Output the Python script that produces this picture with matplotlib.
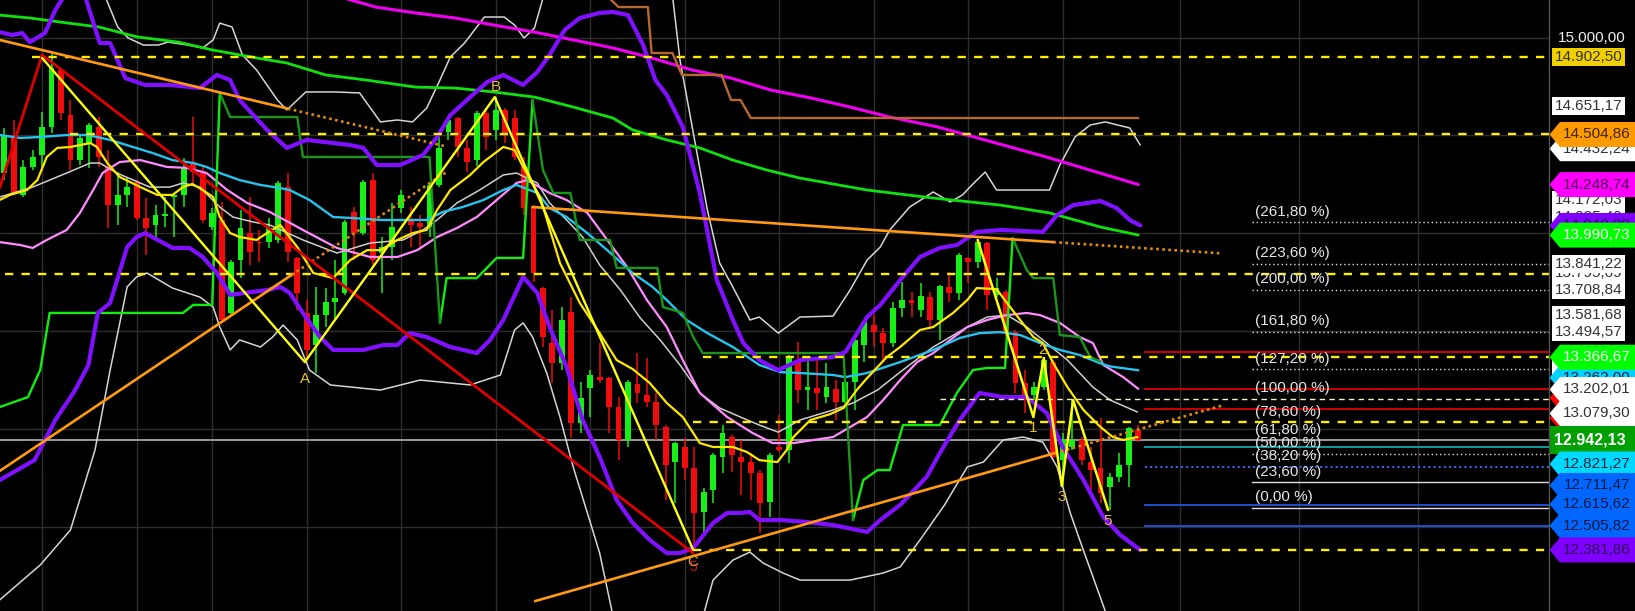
import matplotlib
matplotlib.use('Agg')
import matplotlib.pyplot as plt
import numpy as np
from matplotlib.patches import Polygon, Rectangle
from matplotlib.lines import Line2D

plt.rcParams['font.family'] = ['Liberation Sans', 'DejaVu Sans']

# ---------------- candles (index 0..120) ----------------
opens = [14309, 14494, 14197, 14340, 14401, 14545, 14836, 14606, 14376, 14463,
         14545, 14340, 14146, 14197, 14263, 14079, 14044, 14090, 14187, 14197,
         14366, 14309, 14033, 14069, 13594, 13865, 14003, 13957, 13957, 13967,
         14238, 13875, 13594, 13430, 13583, 13650, 13696, 14110, 14003, 14274,
         13900, 13931, 14131, 14069, 14054, 14033, 14248, 14519, 14591, 14437,
         14376, 14616, 14529, 14632, 14591, 14340, 14136, 13721, 13440, 13338,
         13599, 13031, 13210, 13266, 13261, 13113, 12944, 13231, 13174, 13139,
         13011, 12832, 12909, 12801, 12576, 12689, 12857, 12960, 12857, 12832,
         12776, 12627, 12909, 12893, 13353, 13200, 13210, 13164, 13205, 13139,
         13241, 13430, 13532, 13491, 13440, 13619, 13660, 13609, 13676, 13558,
         13727, 13696, 13875, 13854, 13952, 13686, 13701, 13497, 13236, 13174,
         13215, 13343, 12842, 12909, 12944, 12832, 12801, 12704, 12755, 12816,
         12995]
closes = [14504, 14207, 14340, 14391, 14545, 14846, 14616, 14376, 14488, 14555,
          14391, 14146, 14197, 14238, 14079, 14028, 14095, 14095, 14197, 14335,
          14315, 14069, 14105, 13558, 13854, 14028, 13906, 13950, 14028, 14258,
          13906, 13696, 13404, 13583, 13650, 13670, 14059, 14003, 14263, 13865,
          13931, 14033, 14197, 14044, 14033, 14248, 14437, 14580, 14442, 14366,
          14616, 14494, 14632, 14514, 14391, 14131, 13798, 13471, 13338, 13558,
          13031, 13159, 13277, 13251, 13113, 12944, 13241, 13185, 13139, 13021,
          12816, 12929, 12801, 12571, 12678, 12868, 12980, 12868, 12832, 12776,
          12622, 12868, 12893, 13369, 13200, 13215, 13185, 13215, 13139, 13241,
          13456, 13548, 13497, 13440, 13619, 13660, 13645, 13681, 13558, 13732,
          13696, 13890, 13854, 13957, 13686, 13721, 13491, 13236, 13149, 13215,
          13353, 12857, 12944, 12944, 12842, 12791, 12673, 12755, 12816, 13006,
          12944]
highs = [14540, 14580, 14376, 14427, 14621, 14915, 14846, 14683, 14498, 14565,
         14596, 14427, 14315, 14289, 14274, 14182, 14146, 14187, 14207, 14386,
         14596, 14350, 14131, 14161, 13865, 14120, 14187, 14018, 14079, 14268,
         14309, 13880, 13660, 13727, 13721, 13865, 14069, 14136, 14274, 14309,
         13982, 14156, 14223, 14136, 14095, 14258, 14494, 14596, 14596, 14478,
         14626, 14632, 14698, 14640, 14632, 14391, 14146, 13727, 13609, 13624,
         13676, 13241, 13302, 13440, 13266, 13164, 13251, 13389, 13364, 13185,
         13021, 12934, 12955, 12909, 12699, 12878, 13021, 12970, 12944, 12878,
         12791, 12878, 13072, 13379, 13445, 13353, 13353, 13338, 13251, 13251,
         13466, 13558, 13583, 13517, 13650, 13752, 13701, 13747, 13701, 13737,
         13803, 13900, 13880, 13972, 13957, 13773, 13711, 13507, 13302, 13241,
         13369, 13353, 12980, 13149, 12960, 12909, 13057, 12776, 12878, 13011,
         13021]
lows = [14274, 14200, 14187, 14325, 14325, 14514, 14580, 14325, 14350, 14335,
        14340, 14028, 14044, 14136, 14069, 13890, 13977, 14033, 13982, 14136,
        14258, 14054, 14018, 13543, 13578, 13773, 13839, 13854, 13926, 13952,
        13854, 13609, 13353, 13287, 13522, 13558, 13686, 13865, 13992, 13839,
        13696, 13865, 14105, 13931, 13931, 13982, 14238, 14478, 14391, 14315,
        14345, 14427, 14478, 14463, 14376, 14095, 13752, 13420, 13236, 13302,
        12955, 12980, 13062, 13236, 12980, 12842, 12909, 13133, 13113, 12944,
        12638, 12622, 12740, 12382, 12469, 12622, 12776, 12781, 12663, 12638,
        12469, 12551, 12883, 12827, 13133, 13098, 13098, 13133, 13047, 13124,
        13098, 13343, 13420, 13343, 13420, 13573, 13573, 13573, 13522, 13456,
        13650, 13660, 13747, 13824, 13609, 13676, 13476, 13185, 13080, 13149,
        13200, 12842, 12710, 12893, 12816, 12689, 12622, 12586, 12730, 12704,
        12934]

# ---------------- indicator lines (candle index, price) ----------------
purple_up = [(-0.5,15028),(0.8,15013),(1.9,15023),(2.7,14977),(4.3,15023),(5.4,15141),(6.4,15218),
             (8.5,15218),(10.1,14972),(11.2,14972),(12.8,14793),(14.9,14758),(17.5,14758),(20.7,14742),
             (22.5,14809),(23.9,14783),(24.9,14681),(27.8,14528),(29.9,14436),(32.0,14477),(36.6,14451),
             (38.0,14436),(39.4,14349),(41.9,14349),(44.3,14400),(45.8,14492),(47.2,14604),(49.3,14696),
             (51.1,14773),(52.8,14809),(54.9,14758),(56.4,14824),(57.7,14911),(59.3,15039),(60.9,15100),
             (63.0,15126),(64.4,15131),(66.0,15115),(67.6,14962),(68.9,14783),(70.1,14707),(71.8,14543),
             (73.6,14206),(75.4,13761),(77.1,13557),(78.2,13439),(79.9,13352),(81.9,13301),(84.2,13352),
             (87.7,13368),(89.0,13393),(90.0,13470),(91.3,13572),(92.7,13634),(94.8,13761),(96.9,13879),
             (99.0,13925),(100.8,13940),(102.9,14007),(105.4,14017),(109.9,14007),(111.4,14093),
             (113.1,14144),(116.0,14165),(117.7,14129),(119.1,14068),(120.2,14040)]
purple_lo = [(-0.5,12739),(3.2,12841),(5.4,13046),(7.5,13199),(8.9,13327),(9.9,13593),(11.2,13644),
             (13.0,13930),(14.0,13981),(14.9,14001),(17.8,13925),(19.6,13925),(21.0,13879),(22.5,13797),
             (23.9,13685),(27.8,13710),(29.2,13726),(30.2,13695),(31.6,13593),(33.4,13470),(34.8,13404),
             (38.0,13404),(40.1,13429),(41.6,13429),(42.9,13490),(44.7,13470),(47.2,13419),(50.0,13388),
             (51.4,13455),(52.8,13557),(54.9,13777),(56.4,13695),(57.7,13521),(59.5,13317),(61.2,13046),
             (63.0,12857),(64.8,12637),(66.5,12520),(68.3,12433),(70.1,12366),(71.5,12366),(72.9,12392),
             (75.0,12520),(76.5,12571),(77.9,12571),(78.9,12576),(79.9,12535),(82.1,12535),(84.9,12525),
             (87.7,12509),(91.3,12474),(92.7,12535),(94.8,12612),(97.6,12755),(99.0,12877),(101.1,13046),
             (103.2,13184),(105.7,13163),(108.2,13163),(110.3,13082),(112.0,12908),(114.2,12739),
             (116.3,12550),(118.1,12458),(120.2,12382)]
white_up_a = [(10.6,15218),(12.0,15054),(13.1,14998),(14.7,14962),(16.3,14962),(17.3,14977),(19.4,14962),
              (21.0,14947),(22.1,14988),(22.8,15074),(24.1,15054),(25.2,14911),(26.7,14834),(28.9,14681),
              (29.9,14630),(31.9,14722),(35.1,14722),(37.6,14717),(39.8,14569),(41.6,14579),(43.2,14569),
              (44.7,14640),(46.1,14783),(47.2,14901),(48.7,14972),(50.8,15105),(52.9,15105),(54.0,15064),
              (55.0,14998),(56.1,15049),(57.1,15218)]
white_up_b = [(70.7,15218),(71.5,14885),(73.3,14410),(74.4,14119),(75.7,13848),(77.1,13725),(78.9,13557),
              (79.9,13572),(81.9,13490),(84.2,13572),(87.7,13577),(89.5,13710),(91.3,13863),(92.7,13930),
              (93.7,14017),(95.8,14134),(98.3,14211),(100.1,14160),(101.4,14196),(102.5,14252),
              (103.8,14313),(105.0,14221),(110.6,14221),(111.7,14349),(113.3,14492),(114.9,14553),
              (116.5,14569),(119.1,14538),(120.2,14451)]
white_lo_a = [(-0.5,12126),(3.8,12305),(7.0,12484),(9.6,12893),(11.2,13301),(13.0,13726),(14.0,13777),
              (15.1,13797),(17.8,13720),(20.7,13674),(22.1,13623),(22.8,13521),(23.9,13404),(24.9,13455),
              (27.1,13419),(28.4,13470),(29.5,13531),(31.0,13455),(32.3,13301),(34.5,13225),(39.8,13199),
              (44.0,13250),(49.3,13225),(52.5,13276),(54.0,13506),(54.9,13542),(55.9,13470),(57.4,13286),
              (58.8,13061),(60.2,12806),(61.7,12571),(63.0,12366),(64.3,12070)]
white_lo_b = [(74.1,12070),(75.0,12228),(77.1,12330),(78.9,12371),(80.3,12315),(82.4,12264),(84.2,12228),
              (89.5,12228),(93.0,12264),(94.8,12295),(96.9,12433),(99.5,12612),(101.9,12806),(103.6,12831),
              (105.7,12944),(107.8,12959),(109.9,12933),(111.4,12806),(112.8,12571),(113.8,12433),
              (116.5,12070)]
yellow_ma = [(-0.5,14170),(0.6,14196),(2.4,14221),(3.5,14272),(4.5,14390),(5.6,14436),(7.0,14441),
             (9.1,14461),(9.8,14441),(10.9,14359),(12.2,14288),(14.4,14236),(16.2,14196),(17.8,14196),
             (18.9,14236),(19.9,14252),(21.0,14221),(22.1,14185),(22.8,14083),(23.9,14001),(24.9,13981),
             (26.7,13966),(27.8,14001),(29.2,14042),(31.0,13930),(32.7,13797),(34.8,13771),(36.6,13863),
             (38.4,13914),(39.8,13914),(41.6,13966),(43.2,14001),(44.7,14017),(45.8,14119),(47.2,14221),
             (49.3,14298),(50.7,14364),(52.8,14441),(54.0,14425),(54.9,14339),(56.7,14185),(58.8,13848),
             (60.9,13644),(63.0,13490),(64.8,13352),(66.5,13306),(68.3,13235),(70.1,13133),(71.8,13061),
             (73.6,12928),(75.0,12908),(77.1,12908),(78.6,12882),(79.9,12841),(81.8,12831),(82.8,12893),
             (83.5,12959),(85.3,13046),(87.4,13076),(88.8,13107),(90.2,13199),(91.3,13260),(93.4,13368),
             (94.8,13419),(96.9,13506),(98.3,13521),(100.4,13593),(101.9,13659),(102.9,13720),
             (105.0,13715),(106.1,13644),(107.5,13557),(108.9,13470),(109.9,13439),(111.0,13337),
             (112.5,13214),(114.2,13097),(116.0,13010),(117.3,12959),(118.4,12944),(119.9,12959)]
grey_ma = [(-0.5,14185),(3.0,14236),(6.6,14308),(9.1,14359),(10.1,14359),(11.9,14308),(15.4,14236),
           (17.5,14236),(18.9,14257),(20.7,14236),(22.8,14134),(24.2,14083),(26.3,14058),(28.1,14042),
           (31.6,13966),(35.2,13899),(38.7,13950),(42.2,13966),(44.3,14017),(45.8,14068),(47.9,14155),
           (50.3,14221),(52.8,14298),(54.2,14308),(56.4,14257),(57.7,14155),(59.5,14068),(61.2,13981),
           (63.0,13838),(65.2,13710),(67.3,13567),(69.4,13455),(71.5,13327),(73.6,13184),(75.7,13107),
           (77.9,13061),(79.9,13020),(81.9,12984),(84.2,13046),(87.7,13097),(89.8,13133),(92.4,13199),
           (94.8,13291),(98.3,13419),(100.1,13470),(101.9,13521),(104.0,13572),(106.1,13582),
           (108.2,13521),(110.3,13439),(112.5,13352),(115.2,13214),(117.0,13148),(119.9,13087)]
pink_ma = [(-0.5,13955),(1.7,13940),(3.0,13925),(4.5,13966),(6.6,14017),(8.0,14104),(9.4,14221),
           (10.4,14308),(12.2,14364),(14.4,14374),(17.2,14339),(19.3,14334),(21.4,14308),(23.6,14221),
           (25.7,14155),(28.1,14109),(31.6,14017),(35.2,13925),(38.7,13879),(41.6,13879),(43.7,13914),
           (45.8,13981),(47.9,14027),(50.0,14083),(52.1,14170),(54.2,14257),(55.3,14272),(57.7,14206),
           (59.5,14170),(61.7,14104),(63.8,13966),(65.9,13828),(68.0,13659),(70.1,13521),(71.8,13352),
           (73.6,13184),(76.5,13061),(79.2,12979),(81.3,12928),(83.5,12928),(87.7,12959),(89.5,13010),
           (91.3,13061),(93.0,13148),(94.8,13250),(96.6,13342),(98.3,13388),(100.1,13455),(101.9,13521),
           (104.0,13557),(106.1,13582),(108.2,13593),(109.6,13582),(111.7,13542),(113.8,13470),
           (115.2,13439),(116.3,13327),(118.4,13265),(120.0,13205)]
cyan_ma = [(-0.5,14502),(1.7,14487),(3.8,14492),(6.6,14502),(8.8,14502),(9.8,14492),(11.2,14477),
           (13.6,14441),(15.7,14410),(17.8,14374),(20.0,14359),(21.4,14339),(22.8,14308),(24.9,14272),
           (27.1,14247),(29.2,14231),(30.2,14221),(32.3,14170),(34.8,14083),(36.9,14078),(39.8,14068),
           (44.7,14068),(46.4,14109),(48.5,14134),(50.7,14170),(52.8,14221),(54.2,14247),(56.4,14206),
           (57.7,14129),(59.5,14083),(61.7,14001),(63.8,13914),(66.5,13797),(68.6,13726),(70.1,13659),
           (72.2,13557),(74.4,13490),(77.1,13419),(79.9,13327),(82.1,13291),(84.2,13286),(87.7,13276),
           (89.0,13265),(91.3,13286),(94.8,13342),(98.3,13404),(101.1,13465),(103.2,13490),(105.4,13495),
           (107.5,13480),(109.6,13439),(111.7,13404),(113.8,13378),(116.0,13335),(117.0,13320),
           (120.0,13300)]
green_ma = [(-0.5,15115),(2.7,15100),(5.8,15080),(10.0,15054),(14.1,15003),(18.4,14977),(22.1,14936),
            (26.7,14896),(29.9,14870),(34.0,14809),(38.3,14783),(43.5,14747),(47.7,14742),(51.8,14722),
            (56.1,14696),(60.2,14645),(64.4,14589),(66.5,14528),(70.1,14477),(73.6,14436),(77.1,14374),
            (80.7,14323),(84.2,14282),(91.3,14221),(98.3,14180),(105.4,14144),(110.6,14104),(116.0,14032),
            (120.0,13991)]
magenta_ma = [(35.6,15207),(39.3,15156),(43.5,15126),(47.7,15100),(51.8,15064),(56.1,15028),(60.2,14988),
              (64.4,14947),(68.5,14896),(72.8,14834),(76.9,14793),(81.1,14732),(85.4,14691),(89.5,14645),
              (93.7,14594),(98.8,14543),(109.9,14395),(120.0,14249)]
brown_step = [(63.9,15207),(65.0,15156),(68.1,15156),(68.5,14921),(70.7,14921),(71.7,14809),(75.9,14809),
              (76.9,14681),(77.9,14681),(79.0,14589),(120.0,14589)]
lime_a = [(-0.5,13112),(2.5,13163),(3.8,13301),(4.8,13593),(18.9,13593),(20.0,13634),(22.0,13634),(22.8,14717)]
dkgreen_a = [(22.8,14717),(23.9,14594),(31.0,14594),(31.6,14390),(45.0,14390),(46.1,13542)]
lime_b = [(46.1,13542),(46.8,13771),(50.0,13771),(52.1,13874),(54.9,13874),(55.9,14681)]
dkgreen_b = [(55.9,14681),(57.0,14323),(58.1,14206),(59.9,14206),(60.9,13966),(64.1,13966),(64.8,13823),
             (69.1,13823),(69.7,13623),(71.8,13593),(72.9,13470),(73.9,13388),(88.8,13388),(89.8,12535)]
lime_c = [(89.8,12535),(90.9,12739),(92.4,12790),(93.7,12790),(95.1,13020),(99.0,13020),(100.8,13184),
          (102.5,13301),(104.0,13312),(105.9,13312),(106.7,13976)]
dkgreen_c = [(106.7,13976),(108.2,13812),(108.9,13771),(111.0,13771),(111.7,13480),(113.8,13470),
             (114.9,13368),(116.0,13345)]

# trend lines: (start, end of solid part, end of dotted extension)
orange_down = [(-0.5,14988),(30.0,14637),(46.8,14443)]
orange_up_left = [(-0.5,12785),(30.4,13787),(46.8,14313)]
orange_top = [(55.9,14134),(111.0,13955),(128.9,13897)]
orange_low = [(56.2,12121),(111.2,12877),(128.9,13120)]
red_trend = [(-0.5,14231),(4.0,14911),(72.9,12366)]
zigzag_abc = [(4.0,14896),(31.8,13342),(51.9,14696),(72.9,12382)]
zigzag_wave = [(103.0,13966),(108.9,13061),(110.0,13363),(111.9,12709),(113.1,13148),(116.8,12586)]
wave_labels = [('A',31.8,13255),('B',52.0,14750),('1',108.9,13005),('2',109.9,13405),
               ('3',111.9,12650),('5',116.8,12530)]

# horizontal levels
yellow_levels = [(14902.50, 2.9), (14504.86, 7.0), (13790.0, 0.1), (13366.67, 73.9),
                 (13034.0, 72.9), (12381.86, 72.9)]
last_price = 12942.13
right_lines = [(13392, '#d00000', '-'), (13202, '#d00000', '-'), (13100, '#d00000', '-'),
               (12910, '#119aa0', '-'), (12808, '#3a6cff', ':'), (12612, '#1e50d0', '-'),
               (12506, '#1e50d0', '-')]
fib0, fib100 = 12595.0, 13153.0
fib_pct = [0.0, 23.6, 38.2, 50.0, 61.8, 78.6, 100.0, 127.2, 161.8, 200.0, 223.6, 261.8]
fib_texts = ['(0,00 %)', '(23,60 %)', '(38,20 %)', '(50,00 %)', '(61,80 %)', '(78,60 %)',
             '(100,00 %)', '(127,20 %)', '(161,80 %)', '(200,00 %)', '(223,60 %)', '(261,80 %)']
fib_style = ['-', '-', None, ':', None, None, None, ':', ':', ':', ':', ':']

grid_prices = [15000, 14500, 14000, 13500, 13000, 12500]
grid_idx = [4, 14, 22, 32, 42, 52, 62, 72, 82, 92, 102, 112, 124.4, 137, 149.6]

# right-hand value tags: (kind, price, text, face, textcolor), drawn bottom-up
tags = [
    ('arrow', 14432.24, '14.432,24', '#ffffff', '#333333'),
    ('arrow', 14504.86, '14.504,86', '#ff9a00', '#3d2400'),
    ('box', 14651.17, '14.651,17', '#ffffff', '#333333'),
    ('box', 14902.50, '14.902,50', '#f2d000', '#333333'),
    ('box', 14172.03, '14.172,03', '#ffffff', '#333333'),
    ('arrow', 14248.74, '14.248,74', '#ff00ff', '#4a004a'),
    ('box', 14085.40, '14.085,40', '#ffffff', '#333333'),
    ('arrow', 14040.00, '14.040,00', '#8000ff', '#2a0055'),
    ('arrow', 13990.73, '13.990,73', '#00ff00', '#ffffff'),
    ('box', 13795.69, '13.795,69', '#ffffff', '#333333'),
    ('box', 13841.22, '13.841,22', '#ffffff', '#333333'),
    ('box', 13708.84, '13.708,84', '#ffffff', '#333333'),
    ('box', 13581.68, '13.581,68', '#ffffff', '#333333'),
    ('box', 13494.57, '13.494,57', '#ffffff', '#333333'),
    ('box', 13311.81, '13.311,81', '#ffffff', '#333333'),
    ('arrow', 13262.00, '13.262,00', '#00d0ff', '#002a3a'),
    ('arrow', 13366.67, '13.366,67', '#00ff00', '#ffffff'),
    ('arrow', 13159.00, '', '#ff0000', '#ffffff'),
    ('arrow', 13057.00, '', '#ff0000', '#ffffff'),
    ('arrow', 13202.01, '13.202,01', '#ffffff', '#333333'),
    ('arrow', 13079.30, '13.079,30', '#ffffff', '#333333'),
    ('last', 12942.13, '12.942,13', '#00a000', '#ffffff'),
    ('arrow', 12821.27, '12.821,27', '#00d8ff', '#002a3a'),
    ('arrow', 12711.47, '12.711,47', '#0066ff', '#001a40'),
    ('arrow', 12615.62, '12.615,62', '#0066ff', '#001a40'),
    ('arrow', 12505.82, '12.505,82', '#0066ff', '#001a40'),
    ('arrow', 12381.86, '12.381,86', '#8000ff', '#2a0050'),
]
axis_label = (15000, '15.000,00')

# ---------------- figure ----------------
W, H = 1635, 611
PLOT_W = 1549
YMIN, YMAX = 12070, 15192
XMIN, XMAX = -0.455, 163.46
PPX = (YMAX - YMIN) / H  # price per pixel

fig = plt.figure(figsize=(W / 100, H / 100), dpi=100, facecolor='black')
ax = fig.add_axes([0, 0, PLOT_W / W, 1])
ax.set_facecolor('black')
ax.set_xlim(XMIN, XMAX)
ax.set_ylim(YMIN, YMAX)
for s in ax.spines.values():
    s.set_visible(False)
ax.set_xticks([])
ax.set_yticks([])

for g in grid_prices:
    ax.axhline(g, color='#2e2e2e', lw=1.0, zorder=0.5)
for g in grid_idx:
    ax.axvline(g, color='#2e2e2e', lw=1.0, zorder=0.5)

# candles
o = np.array(opens, float); c = np.array(closes, float)
h = np.array(highs, float); l = np.array(lows, float)
idx = np.arange(len(o))
up = c >= o
cols = np.where(up, '#16f016', '#f00c0c')
ax.vlines(idx, l, h, colors=cols, lw=1.1, zorder=2)
bot = np.minimum(o, c)
bh = np.maximum(np.abs(c - o), 1.5 * PPX)
ax.bar(idx, bh, width=0.62, bottom=bot, color=cols, linewidth=0, zorder=2.1)


def pl(pts, **kw):
    xs = [p[0] for p in pts]
    ys = [p[1] for p in pts]
    ax.plot(xs, ys, solid_joinstyle='round', solid_capstyle='round', **kw)


# horizontal levels
ax.axhline(last_price, color='#b4b4b4', lw=1.2, zorder=1.8)
for price, x0 in yellow_levels:
    ax.plot([x0, XMAX], [price, price], color='#ffee00', lw=1.7, ls=(0, (3.5, 3.5)), zorder=3.6)
ax.plot([99.0, XMAX], [fib100, fib100], color='#f5f0c0', lw=1.0, ls=(0, (4, 3)), zorder=3.6)
for price, col, ls in right_lines:
    ax.plot([120.7, XMAX], [price, price], color=col, lw=1.4, ls=ls, zorder=3.6)
for pct, txt, st in zip(fib_pct, fib_texts, fib_style):
    lev = fib0 + (fib100 - fib0) * pct / 100.0
    if st is not None:
        ax.plot([132.0, XMAX], [lev, lev], color='#e0e0e0', lw=1.0,
                ls='-' if st == '-' else (0, (1, 2)), zorder=3.6)
    ax.annotate(txt, xy=(132.3, lev), xytext=(0, 7.8), textcoords='offset points',
                ha='left', va='center', fontsize=11, color='#e6e6e6', zorder=6)

# indicators
pl(white_up_a, color='#d6d6d6', lw=1.1, zorder=3)
pl(white_up_b, color='#d6d6d6', lw=1.1, zorder=3)
pl(white_lo_a, color='#d6d6d6', lw=1.1, zorder=3)
pl(white_lo_b, color='#d6d6d6', lw=1.1, zorder=3)
pl(grey_ma, color='#cfcfcf', lw=1.1, zorder=3)
pl(pink_ma, color='#ff8cff', lw=1.6, zorder=3.1)
pl(cyan_ma, color='#25c3ee', lw=1.7, zorder=3.1)
pl(green_ma, color='#10e010', lw=2.0, zorder=3.1)
pl(magenta_ma, color='#f000f0', lw=2.2, zorder=3.1)
pl(brown_step, color='#b8682c', lw=1.7, zorder=3.1)
for seg in (lime_a, lime_b, lime_c):
    pl(seg, color='#10ee10', lw=1.7, zorder=3.2)
for seg in (dkgreen_a, dkgreen_b, dkgreen_c):
    pl(seg, color='#1a961a', lw=1.7, zorder=3.2)
pl(yellow_ma, color='#ffe800', lw=1.6, zorder=3.3)
pl(purple_up, color='#8010ff', lw=3.0, zorder=3.4)
pl(purple_lo, color='#8010ff', lw=3.0, zorder=3.4)

# trend lines
for tl in (orange_down, orange_up_left, orange_top, orange_low):
    ax.plot([tl[0][0], tl[1][0]], [tl[0][1], tl[1][1]], color='#ff9a10', lw=1.9, zorder=4)
    ax.plot([tl[1][0], tl[2][0]], [tl[1][1], tl[2][1]], color='#e08a10', lw=1.9,
            ls=(0, (1, 1.3)), zorder=4)
pl(red_trend, color='#e00000', lw=2.0, zorder=4)
pl(zigzag_abc, color='#ffff10', lw=1.7, zorder=4.1)
pl(zigzag_wave, color='#ffff10', lw=1.8, zorder=4.1)

for t, x, y in wave_labels:
    ax.text(x, y, t, color='#e2c030', fontsize=11, ha='center', va='center', zorder=6)
ax.text(72.9, 12318, 'C', color='#d8a030', fontsize=11, ha='center', va='center', zorder=6)
ax.text(72.9, 12296, '5', color='#d01010', fontsize=10, ha='center', va='center', zorder=5.9)

# right axis border
fig.add_artist(Line2D([PLOT_W / W] * 2, [0, 1], color='#555555', lw=1.0))

# tag axis
tax = fig.add_axes([PLOT_W / W, 0, (W - PLOT_W) / W, 1])
tax.set_xlim(0, W - PLOT_W)
tax.set_ylim(YMIN, YMAX)
tax.axis('off')
tax.patch.set_alpha(0)
TW = W - PLOT_W

tax.text(9, axis_label[0], axis_label[1], color='#f0f0f0', fontsize=11, ha='left', va='center')
for k, (kind, price, txt, fc, tc) in enumerate(tags):
    zp = 2 + 2 * k
    zt = zp + 1
    if kind == 'arrow':
        hh = 12.5 * PPX
        poly = Polygon([(0.5, price), (11, price + hh), (TW, price + hh), (TW, price - hh), (11, price - hh)],
                       closed=True, facecolor=fc, edgecolor='none', zorder=zp)
        tax.add_patch(poly)
        if txt:
            tax.text(48, price, txt, color=tc, fontsize=11, ha='center', va='center', zorder=zt)
    elif kind == 'box':
        hh = 9 * PPX
        tax.add_patch(Rectangle((3, price - hh), 73, 2 * hh, facecolor=fc, edgecolor='none', zorder=zp))
        tax.text(39.5, price, txt, color=tc, fontsize=11, ha='center', va='center', zorder=zt)
    else:
        hh = 14 * PPX
        tax.add_patch(Rectangle((0.5, price - hh), TW, 2 * hh, facecolor=fc, edgecolor='none', zorder=zp))
        tax.text(41, price, txt, color=tc, fontsize=11.5, fontweight='bold', ha='center',
                 va='center', zorder=zt)

fig.savefig('out.png', dpi=100, facecolor='black')
